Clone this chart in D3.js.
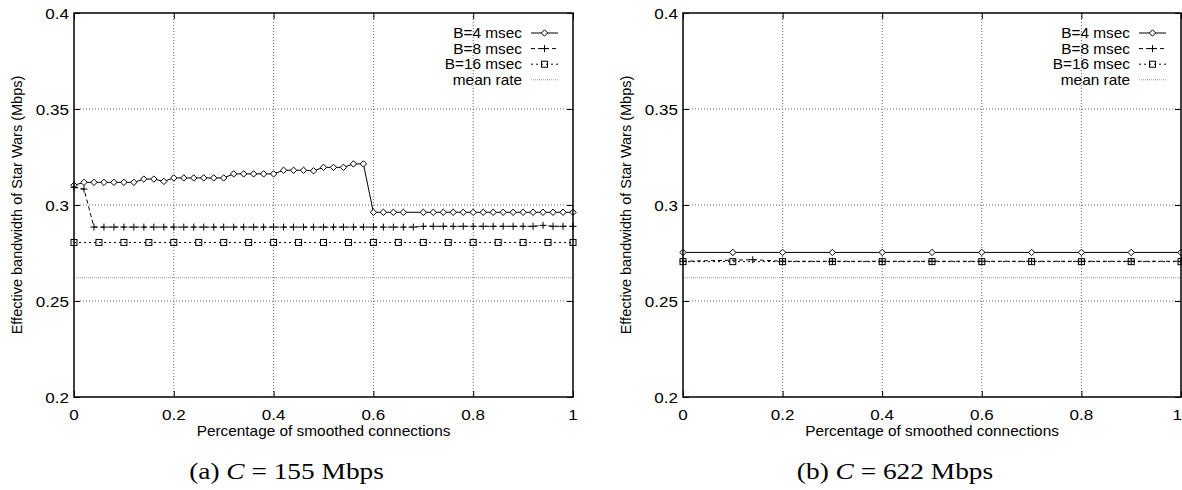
<!DOCTYPE html>
<html>
<head>
<meta charset="utf-8">
<script src="https://cdn.jsdelivr.net/npm/d3@7"></script>
<style>
html,body{margin:0;padding:0;background:#fff;overflow:hidden;}
svg{display:block;}
text{font-family:"Liberation Sans",Arial,Helvetica,sans-serif;fill:#000;}
.cap{font-family:"Liberation Serif","Times New Roman",Times,serif;}
</style>
</head>
<body>
<svg id="chart" width="1182" height="490"></svg>
<script>
// ---------- data ----------
const xTicks = [0, 0.2, 0.4, 0.6, 0.8, 1];
const xTickLabels = ["0", "0.2", "0.4", "0.6", "0.8", "1"];
const yTicks = [0.2, 0.25, 0.3, 0.35, 0.4];
const yTickLabels = ["0.2", "0.25", "0.3", "0.35", "0.4"];
const seriesNames = ["B=4 msec", "B=8 msec", "B=16 msec", "mean rate"];

// panel (a) C = 155 Mbps
const aB4x = [0,0.02,0.04,0.06,0.08,0.10,0.12,0.14,0.16,0.18,0.20,0.22,0.24,0.26,0.28,0.30,0.32,0.34,0.36,0.38,0.40,0.42,0.44,0.46,0.48,0.50,0.52,0.54,0.56,0.58,
              0.60,0.62,0.64,0.66,0.70,0.72,0.74,0.76,0.78,0.80,0.82,0.84,0.86,0.88,0.90,0.92,0.94,0.96,0.98,1.00];
const aB4y = [0.3103,0.3118,0.3118,0.3118,0.3118,0.3118,0.3118,0.3135,0.3135,0.3123,0.3141,0.3141,0.3141,0.3141,0.3141,0.3141,0.3162,0.3162,0.3162,0.3162,0.3162,0.3181,0.3181,0.3181,0.3178,0.3196,0.3196,0.3196,0.3214,0.3214,
              0.2962,0.2962,0.2962,0.2962,0.2962,0.2962,0.2962,0.2962,0.2962,0.2962,0.2962,0.2962,0.2962,0.2962,0.2962,0.2962,0.2962,0.2962,0.2962,0.2962];
const aB8x = [0,0.02,0.04,0.06,0.08,0.10,0.12,0.14,0.16,0.18,0.20,0.22,0.24,0.26,0.28,0.30,0.32,0.34,0.36,0.38,0.40,0.42,0.44,0.46,0.48,0.50,
              0.52,0.54,0.56,0.58,0.60,0.62,0.64,0.66,0.68,0.70,0.72,0.74,0.76,0.78,0.80,0.82,0.84,0.86,0.88,0.90,0.92,0.94,0.96,0.98,1.00];
const aB8y = [0.3092,0.3083,0.2885,0.2885,0.2885,0.2885,0.2885,0.2885,0.2885,0.2885,0.2885,0.2885,0.2885,0.2885,0.2885,0.2885,0.2885,0.2885,0.2885,0.2885,0.2885,0.2885,0.2885,0.2885,0.2885,0.2885,
              0.2885,0.2885,0.2885,0.2885,0.2885,0.2885,0.2885,0.2885,0.2885,0.2889,0.2889,0.2889,0.2889,0.2889,0.2889,0.2889,0.2889,0.2889,0.2889,0.2889,0.2889,0.2894,0.2889,0.2889,0.2889];
const aB16x = [0,0.05,0.10,0.15,0.20,0.25,0.30,0.35,0.40,0.45,0.50,0.55,0.60,0.65,0.70,0.75,0.80,0.85,0.90,0.95,1.00];
const aB16y = [0.2805,0.2805,0.2805,0.2805,0.2805,0.2805,0.2805,0.2805,0.2805,0.2805,0.2805,0.2805,0.2805,0.2805,0.2805,0.2805,0.2805,0.2805,0.2805,0.2805,0.2805];
const aMeanX = [0, 1];
const aMeanY = [0.2621, 0.2621];

// panel (b) C = 622 Mbps
const bB4x = [0,0.1,0.2,0.3,0.4,0.5,0.6,0.7,0.8,0.9,1.0];
const bB4y = [0.2753,0.2753,0.2753,0.2753,0.2753,0.2753,0.2753,0.2753,0.2753,0.2753,0.2753];
const bB8x = [0,0.14,0.2,0.3,0.4,0.5,0.6,0.7,0.8,0.9,1.0];
const bB8y = [0.2707,0.2715,0.2707,0.2707,0.2707,0.2707,0.2707,0.2707,0.2707,0.2707,0.2707];
const bB16x = [0,0.1,0.2,0.3,0.4,0.5,0.6,0.7,0.8,0.9,1.0];
const bB16y = [0.2705,0.2705,0.2705,0.2705,0.2705,0.2705,0.2705,0.2705,0.2705,0.2705,0.2705];
const bMeanX = [0, 1];
const bMeanY = [0.2621, 0.2621];

const captions = [["(a) ", "C", " = 155 Mbps"], ["(b) ", "C", " = 622 Mbps"]];
const yTitle = "Effective bandwidth of Star Wars (Mbps)";
const xTitle = "Percentage of smoothed connections";

// ---------- drawing ----------
const svg = d3.select("#chart");
const pTop = 13, pBottom = 397;

const panels = [
  {x0: 74, x1: 573, series: [[aB4x,aB4y],[aB8x,aB8y],[aB16x,aB16y],[aMeanX,aMeanY]], cap: captions[0]},
  {x0: 683, x1: 1181, series: [[bB4x,bB4y],[bB8x,bB8y],[bB16x,bB16y],[bMeanX,bMeanY]], cap: captions[1]}
];

const styles = [
  {stroke: "#000", width: 1, dash: null, marker: "diamond"},
  {stroke: "#000", width: 1, dash: "4,3", marker: "plus"},
  {stroke: "#000", width: 1, dash: "2,3", marker: "square"},
  {stroke: "#999", width: 1, dash: "1,1", marker: null}
];

function drawMarker(g, type, cx, cy) {
  if (type === "diamond") {
    g.append("path").attr("d", `M${cx},${cy-3.2}L${cx+3.2},${cy}L${cx},${cy+3.2}L${cx-3.2},${cy}Z`)
      .attr("fill", "#fff").attr("stroke", "#000").attr("stroke-width", 1);
  } else if (type === "plus") {
    g.append("path").attr("d", `M${cx-3.5},${cy}H${cx+3.5}M${cx},${cy-3.5}V${cy+3.5}`)
      .attr("fill", "none").attr("stroke", "#000").attr("stroke-width", 1);
  } else if (type === "square") {
    g.append("rect").attr("x", cx-3).attr("y", cy-3).attr("width", 6).attr("height", 6)
      .attr("fill", "none").attr("stroke", "#000").attr("stroke-width", 1);
  }
}

function stretchedText(g, x, y, str, size, sx, anchor) {
  return g.append("text")
    .attr("transform", `translate(${x},${y}) scale(${sx},1)`)
    .attr("font-size", size)
    .attr("text-anchor", anchor)
    .text(str);
}

panels.forEach((p, pi) => {
  const x = d3.scaleLinear().domain([0, 1]).range([p.x0, p.x1]);
  const y = d3.scaleLinear().domain([0.2, 0.4]).range([pBottom, pTop]);
  const g = svg.append("g");

  // grid
  const grid = g.append("g");
  xTicks.slice(1, -1).forEach(v => {
    grid.append("line").attr("x1", x(v)).attr("x2", x(v)).attr("y1", pTop).attr("y2", pBottom)
      .attr("stroke", "#666").attr("stroke-width", 1).attr("stroke-dasharray", "1,2");
  });
  yTicks.slice(1, -1).forEach(v => {
    grid.append("line").attr("x1", p.x0).attr("x2", p.x1).attr("y1", y(v)).attr("y2", y(v))
      .attr("stroke", "#666").attr("stroke-width", 1).attr("stroke-dasharray", "1,2");
  });

  // axes via d3 (ticks inward), labels drawn separately
  const axL = d3.axisLeft(y).tickValues(yTicks).tickSize(-6).tickFormat("");
  const axR = d3.axisRight(y).tickValues(yTicks).tickSize(-6).tickFormat("");
  const axB = d3.axisBottom(x).tickValues(xTicks).tickSize(-6).tickFormat("");
  const axT = d3.axisTop(x).tickValues(xTicks).tickSize(-6).tickFormat("");
  [[axL, `translate(${p.x0},0)`], [axR, `translate(${p.x1},0)`], [axB, `translate(0,${pBottom})`], [axT, `translate(0,${pTop})`]]
    .forEach(([ax, tr]) => {
      const a = g.append("g").attr("transform", tr).call(ax);
      a.select(".domain").remove();
      a.selectAll("line").attr("stroke", "#000");
    });

  // series
  p.series.forEach((s, si) => {
    const st = styles[si];
    const pts = s[0].map((xv, i) => [x(xv), y(s[1][i])]);
    const line = d3.line();
    const path = g.append("path").attr("d", line(pts)).attr("fill", "none")
      .attr("stroke", st.stroke).attr("stroke-width", st.width);
    if (st.dash) path.attr("stroke-dasharray", st.dash);
    if (st.marker) pts.forEach(pt => drawMarker(g, st.marker, pt[0], pt[1]));
  });

  // frame
  g.append("rect").attr("x", p.x0).attr("y", pTop).attr("width", p.x1 - p.x0).attr("height", pBottom - pTop)
    .attr("fill", "none").attr("stroke", "#000").attr("stroke-width", 1.5);

  // tick labels
  yTicks.forEach((v, i) => stretchedText(g, p.x0 - 5, y(v) + 5.5, yTickLabels[i], 15.5, 1.1, "end"));
  xTicks.forEach((v, i) => {
    const t = stretchedText(g, x(v), 420, xTickLabels[i], 15.5, 1.1, "middle");
    if (x(v) > 1174) t.attr("transform", `translate(1182,420) scale(1.1,1)`).attr("text-anchor", "end");
  });

  // axis titles
  stretchedText(g, (p.x0 + p.x1) / 2, 436, xTitle, 14.5, 1.06, "middle");
  g.append("text")
    .attr("transform", `translate(${p.x0 - 52},${(pTop + pBottom) / 2}) scale(1.06,1) rotate(-90)`)
    .attr("font-size", 14.5).attr("text-anchor", "middle").text(yTitle);

  // legend
  const lx = p.x1 - 51;
  seriesNames.forEach((name, i) => {
    const ly = 33 + i * 15.6;
    stretchedText(g, lx, ly + 5, name, 14.5, 1.06, "end");
    const st = styles[i];
    const l = g.append("line").attr("x1", lx + 9).attr("x2", lx + 36).attr("y1", ly).attr("y2", ly)
      .attr("stroke", st.stroke).attr("stroke-width", st.width);
    if (st.dash) l.attr("stroke-dasharray", st.dash);
    if (st.marker) drawMarker(g, st.marker, lx + 22.5, ly);
  });

  // caption
  const cap = g.append("text").attr("class", "cap")
    .attr("transform", `translate(${(p.x0 + p.x1) / 2 - 37},479) scale(1.19,1)`)
    .attr("font-size", 23).attr("text-anchor", "middle");
  cap.append("tspan").text(p.cap[0]);
  cap.append("tspan").attr("font-style", "italic").text(p.cap[1]);
  cap.append("tspan").text(p.cap[2]);
});
</script>
</body>
</html>
